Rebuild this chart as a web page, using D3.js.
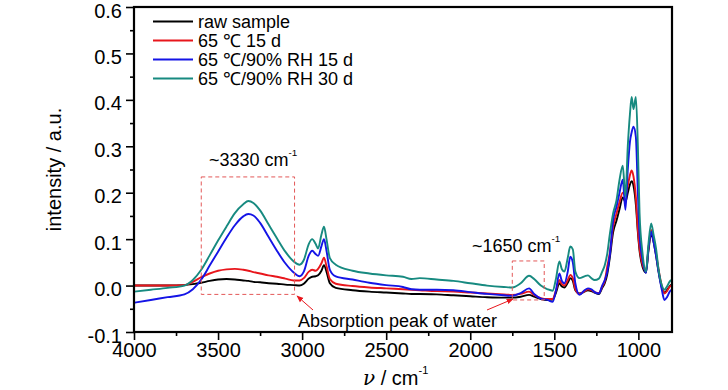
<!DOCTYPE html>
<html><head><meta charset="utf-8">
<script src="https://cdn.jsdelivr.net/npm/d3@7"></script>
<style>
html,body{margin:0;padding:0;background:#fff;}
svg{display:block;font-family:"Liberation Sans",Arial,sans-serif;}
</style></head>
<body><svg id="c" width="728" height="390"></svg>
<script>
const wavenumbers = [4000,3900,3800,3700,3650,3600,3550,3500,3450,3400,3350,3320,3290,3250,3200,3150,3100,3050,3015,2990,2960,2940,2920,2905,2885,2870,2855,2835,2800,2700,2600,2500,2400,2350,2300,2200,2100,2000,1900,1800,1750,1700,1650,1620,1580,1540,1510,1490,1470,1455,1440,1420,1405,1390,1375,1350,1320,1300,1280,1260,1235,1215,1200,1185,1170,1150,1130,1112,1093,1077,1063,1050,1040,1029,1015,1003,993,975,955,940,924,910,895,880,860,845,830,815,805];
const rawSample = [0.000,0.000,0.000,0.001,0.003,0.006,0.010,0.013,0.014,0.013,0.011,0.010,0.008,0.007,0.005,0.004,0.002,0.001,0.000,0.004,0.015,0.019,0.020,0.022,0.032,0.044,0.030,0.005,-0.005,-0.010,-0.013,-0.015,-0.017,-0.018,-0.018,-0.019,-0.021,-0.023,-0.025,-0.026,-0.026,-0.024,-0.020,-0.024,-0.029,-0.031,-0.030,-0.015,0.005,-0.002,-0.004,0.006,0.016,0.010,-0.010,-0.017,-0.013,-0.010,-0.012,-0.015,-0.018,-0.005,0.005,0.025,0.060,0.115,0.140,0.165,0.190,0.180,0.200,0.218,0.225,0.215,0.175,0.115,0.075,0.040,0.028,0.075,0.112,0.095,0.065,0.030,-0.005,-0.015,-0.010,-0.002,0.002];
const dry15d = [0.000,0.000,0.000,0.001,0.008,0.018,0.026,0.032,0.035,0.036,0.034,0.032,0.029,0.026,0.022,0.019,0.015,0.011,0.011,0.016,0.030,0.034,0.032,0.036,0.048,0.060,0.042,0.014,0.004,-0.001,-0.004,-0.006,-0.008,-0.009,-0.010,-0.012,-0.013,-0.015,-0.017,-0.019,-0.020,-0.018,-0.013,-0.020,-0.027,-0.029,-0.029,-0.010,0.012,0.003,0.000,0.012,0.023,0.016,-0.008,-0.018,-0.012,-0.008,-0.010,-0.014,-0.016,-0.002,0.010,0.041,0.070,0.127,0.155,0.180,0.200,0.195,0.215,0.238,0.248,0.235,0.190,0.120,0.080,0.045,0.032,0.080,0.120,0.100,0.070,0.035,-0.002,-0.017,-0.012,-0.003,0.000];
const humid15d = [-0.037,-0.031,-0.025,-0.019,-0.008,0.013,0.043,0.073,0.103,0.130,0.149,0.154,0.151,0.135,0.105,0.075,0.048,0.028,0.020,0.030,0.065,0.075,0.068,0.064,0.085,0.100,0.075,0.034,0.020,0.013,0.006,0.001,-0.003,-0.008,-0.009,-0.009,-0.010,-0.014,-0.018,-0.021,-0.022,-0.016,-0.006,-0.018,-0.028,-0.031,-0.035,-0.010,0.026,0.010,0.005,0.030,0.062,0.050,0.005,-0.020,-0.010,-0.006,-0.008,-0.014,-0.017,0.000,0.012,0.030,0.065,0.141,0.170,0.200,0.228,0.163,0.250,0.310,0.330,0.342,0.320,0.200,0.110,0.055,0.027,0.080,0.116,0.095,0.065,0.030,-0.010,-0.031,-0.025,-0.014,-0.009];
const humid30d = [-0.013,-0.009,-0.005,0.000,0.012,0.034,0.065,0.097,0.127,0.156,0.175,0.182,0.178,0.162,0.132,0.102,0.073,0.052,0.045,0.055,0.090,0.100,0.090,0.080,0.110,0.127,0.100,0.059,0.045,0.032,0.026,0.022,0.019,0.014,0.016,0.013,0.010,0.005,0.000,-0.003,-0.004,0.005,0.021,0.014,0.000,-0.008,-0.011,0.015,0.052,0.035,0.030,0.060,0.084,0.078,0.030,0.016,0.020,0.022,0.016,0.012,0.015,0.030,0.044,0.069,0.110,0.156,0.184,0.228,0.258,0.192,0.300,0.370,0.406,0.380,0.406,0.300,0.156,0.069,0.030,0.090,0.134,0.110,0.080,0.035,0.000,-0.009,-0.002,0.008,0.012];
const seriesNames = ["raw sample","65 \u2103 15 d","65 \u2103/90% RH 15 d","65 \u2103/90% RH 30 d"];
const seriesColors = ["#000000","#e8161c","#1414e6","#178a80"];
const xTicks = [4000,3500,3000,2500,2000,1500,1000];
const xMinorTicks = [3750,3250,2750,2250,1750,1250];
const yTicks = [-0.1,0.0,0.1,0.2,0.3,0.4,0.5,0.6];
const yMinorTicks = [-0.05,0.05,0.15,0.25,0.35,0.45,0.55];

const allSeries = [rawSample, dry15d, humid15d, humid30d];
const svg = d3.select("#c");
const L=134, R=672, T=7, B=332;
const x = d3.scaleLinear().domain([4000,800]).range([L,R]);
const y = d3.scaleLinear().domain([-0.1,0.6]).range([B,T]);

svg.append("clipPath").attr("id","clip").append("rect").attr("x",L).attr("y",T).attr("width",R-L).attr("height",B-T);

const line = d3.line().x(d=>x(d[0])).y(d=>y(d[1])).curve(d3.curveMonotoneX);
const g = svg.append("g").attr("clip-path","url(#clip)");
allSeries.forEach((s,i)=>{
  g.append("path").datum(wavenumbers.map((w,j)=>[w,s[j]]))
    .attr("d",line).attr("fill","none").attr("stroke",seriesColors[i]).attr("stroke-width",1.9).attr("stroke-linejoin","round");
});

// annotation boxes
const red="#e35858";
function box(x0,x1,y0,y1){
  svg.append("rect").attr("x",x(x0)).attr("y",y(y1)).attr("width",x(x1)-x(x0)).attr("height",y(y0)-y(y1))
   .attr("fill","none").attr("stroke",red).attr("stroke-width",1).attr("stroke-dasharray","4,3");
}
box(3600,3045,-0.019,0.234);
box(1750,1560,-0.031,0.053);

// arrows
const defs = svg.append("defs");
defs.append("marker").attr("id","ah").attr("viewBox","0 0 10 10").attr("refX",9).attr("refY",5)
  .attr("markerWidth",7).attr("markerHeight",7).attr("orient","auto")
  .append("path").attr("d","M0,1L10,5L0,9z").attr("fill","#e8161c");
svg.append("line").attr("x1",313).attr("y1",310).attr("x2",297).attr("y2",296)
  .attr("stroke","#e8161c").attr("stroke-width",1).attr("marker-end","url(#ah)");
svg.append("line").attr("x1",487).attr("y1",310).attr("x2",513).attr("y2",299)
  .attr("stroke","#e8161c").attr("stroke-width",1).attr("marker-end","url(#ah)");

// annotation texts
function supText(tx,ty,main,sup,size){
  const t = svg.append("text").attr("x",tx).attr("y",ty).attr("font-size",size).attr("fill","#000");
  t.append("tspan").text(main);
  t.append("tspan").attr("font-size",size*0.55).attr("dy",-size*0.55).text(sup);
  return t;
}
supText(209,166,"~3330 cm","-1",18);
supText(472,252,"~1650 cm","-1",18);
svg.append("text").attr("x",298).attr("y",327).attr("font-size",18).text("Absorption peak of water");

// axes
const fmt = d=>d3.format(".1f")(d).replace("\u2212","-");
svg.append("g").attr("class","yax").attr("transform",`translate(${L},0)`)
  .call(d3.axisLeft(y).tickValues(yTicks).tickFormat(fmt).tickSize(8).tickPadding(4));
svg.append("g").attr("transform",`translate(${L},0)`)
  .call(d3.axisLeft(y).tickValues(yMinorTicks).tickFormat("").tickSize(4));
svg.append("g").attr("transform",`translate(0,${B})`)
  .call(d3.axisBottom(x).tickValues(xTicks).tickFormat(d3.format("d")).tickSize(8).tickPadding(3));
svg.append("g").attr("transform",`translate(0,${B})`)
  .call(d3.axisBottom(x).tickValues(xMinorTicks).tickFormat("").tickSize(4));
svg.selectAll(".domain").remove();
svg.selectAll(".tick line").attr("stroke","#000").attr("stroke-width",1.6);
svg.selectAll(".tick text").attr("font-size",20).attr("font-family","Liberation Sans, Arial, sans-serif").attr("fill","#000");
svg.selectAll(".yax .tick text").attr("dy","0.5em");

// frame
svg.append("rect").attr("x",L).attr("y",T).attr("width",R-L).attr("height",B-T)
  .attr("fill","none").attr("stroke","#000").attr("stroke-width",2.2);

// axis titles
svg.append("text").attr("transform",`translate(61,${(T+B)/2}) rotate(-90)`).attr("text-anchor","middle")
  .attr("font-size",20).text("intensity / a.u.");
const xt = svg.append("text").attr("x",363).attr("y",385).attr("font-size",20);
xt.append("tspan").attr("font-style","italic").attr("font-family","DejaVu Serif, serif").text("\u03bd");
xt.append("tspan").text(" / cm");
xt.append("tspan").attr("font-size",11).attr("dy",-11).text("-1");

// legend
const lg = svg.append("g");
seriesNames.forEach((n,i)=>{
  const ly = 21.5 + i*19;
  lg.append("line").attr("x1",153).attr("x2",193).attr("y1",ly).attr("y2",ly).attr("stroke",seriesColors[i]).attr("stroke-width",1.9);
  lg.append("text").attr("x",198).attr("y",ly+6.5).attr("font-size",18).text(n);
});
</script></body></html>
